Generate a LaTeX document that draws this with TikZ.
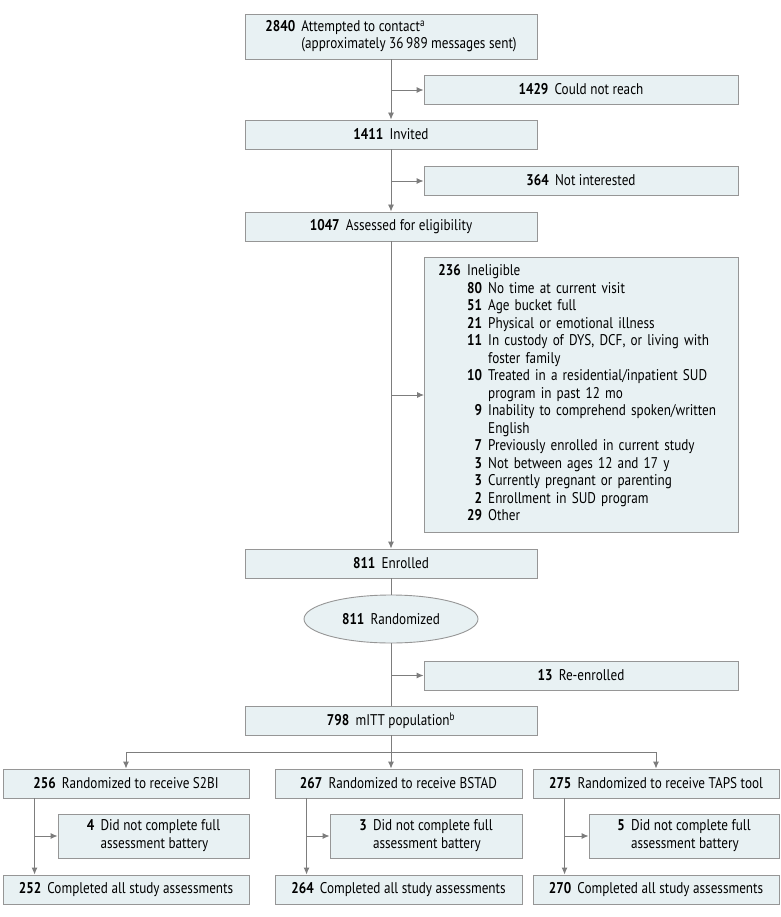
\documentclass[tikz,border=0pt]{standalone}
\usepackage{fontspec}
\setmainfont{PT Sans}[FakeStretch=0.85]
\usepackage{tikz}
\usetikzlibrary{calc, positioning, arrows.meta, shapes.geometric}
\definecolor{flowFill}{RGB}{232,241,243}
\definecolor{flowEdge}{RGB}{150,150,150}
\definecolor{flowLine}{RGB}{125,125,125}
\tikzset{
  flowfig/.style={font=\fontsize{15.5}{17.5}\selectfont},
  flowbox/.style={draw=flowEdge, fill=flowFill, line width=0.9pt, inner sep=0pt,
    minimum height=29pt, align=center},
  mainbox/.style={flowbox, minimum width=292pt},
  sidebox/.style={flowbox, minimum width=314pt},
  armbox/.style={flowbox, minimum width=246pt},
  subbox/.style={flowbox, minimum width=191pt, minimum height=44pt},
  arr/.style={-{Latex[length=7pt, width=6pt]}, draw=flowLine, line width=0.9pt},
  ln/.style={draw=flowLine, line width=0.9pt},
}
\newcommand\cnt[1]{\textbf{#1}\hspace{0.4em}}
\newcommand\twoline[3]{\begin{tabular}{@{}r@{\hspace{0.4em}}l@{}}\textbf{#1} & #2\\ & #3\end{tabular}}

\begin{document}
\begin{tikzpicture}[flowfig, x=1pt, y=-1pt]
  \useasboundingbox (0,0) rectangle (780,917);

  % ----- main column -----
  \node[mainbox, minimum height=45pt] (contact) at (391,36.5)
    {\twoline{2840}{Attempted to contact\textsuperscript{a}}{(approximately 36\,989 messages sent)}};
  \node[mainbox] (invited)  at (391,134.5) {\cnt{1411}Invited};
  \node[mainbox] (assessed) at (391,226.5) {\cnt{1047}Assessed for eligibility};
  \node[mainbox] (enrolled) at (391,563.5) {\cnt{811}Enrolled};
  \node[flowbox, ellipse, minimum width=174pt, minimum height=48pt] (randomized)
    at (391,619) {\cnt{811}Randomized};
  \node[mainbox] (mitt) at (391,720.5) {\cnt{798}mITT population\textsuperscript{b}};

  % ----- exclusions (right) -----
  \node[sidebox] (noreach) at (581,89.5)  {\cnt{1429}Could not reach};
  \node[sidebox] (notint)  at (581,180.5) {\cnt{364}Not interested};
  \node[flowbox, anchor=north west, text width=286pt, inner xsep=14pt,
    minimum height=275pt, align=left] (inelig) at (424,257) {%
    \begin{tabular}{@{}r@{\hspace{0.4em}}r@{\hspace{0.4em}}l@{}}
      \textbf{236} & \multicolumn{2}{@{}l@{}}{Ineligible}\\
      & \textbf{80} & No time at current visit\\
      & \textbf{51} & Age bucket full\\
      & \textbf{21} & Physical or emotional illness\\
      & \textbf{11} & In custody of DYS, DCF, or living with\\
      & & foster family\\
      & \textbf{10} & Treated in a residential/inpatient SUD\\
      & & program in past 12 mo\\
      & \textbf{9} & Inability to comprehend spoken/written\\
      & & English\\
      & \textbf{7} & Previously enrolled in current study\\
      & \textbf{3} & Not between ages 12 and 17 y\\
      & \textbf{3} & Currently pregnant or parenting\\
      & \textbf{2} & Enrollment in SUD program\\
      & \textbf{29} & Other
    \end{tabular}};
  \node[sidebox] (reenrol) at (581,675.5) {\cnt{13}Re-enrolled};

  % ----- three arms -----
  \node[armbox] (s2bi)  at (126,783.5) {\cnt{256}Randomized to receive S2BI};
  \node[armbox, minimum width=247pt] (bstad) at (398.5,783.5) {\cnt{267}Randomized to receive BSTAD};
  \node[armbox] (taps)  at (656,783.5) {\cnt{275}Randomized to receive TAPS tool};

  \node[subbox] (inc1) at (153.5,836) {\twoline{4}{Did not complete full}{assessment battery}};
  \node[subbox, minimum width=192pt] (inc2) at (426,836) {\twoline{3}{Did not complete full}{assessment battery}};
  \node[subbox, minimum width=190pt] (inc3) at (684,836) {\twoline{5}{Did not complete full}{assessment battery}};

  \node[armbox] (done1) at (126,889.5) {\cnt{252}Completed all study assessments};
  \node[armbox, minimum width=247pt] (done2) at (398.5,889.5) {\cnt{264}Completed all study assessments};
  \node[armbox] (done3) at (656,889.5) {\cnt{270}Completed all study assessments};

  % ----- spine -----
  \draw[arr] (contact) -- (invited);
  \draw[arr] (invited) -- (assessed);
  \draw[arr] (assessed) -- (enrolled);
  \draw[ln] (enrolled) -- (randomized);
  \draw[ln] (randomized) -- (mitt);

  % side branches off the spine
  \coordinate (j1) at (391,90);
  \coordinate (j2) at (391,181);
  \coordinate (j3) at (391,395);
  \coordinate (j4) at (391,675.5);
  \draw[arr] (j1) -- (j1 -| noreach.west);
  \draw[arr] (j2) -- (j2 -| notint.west);
  \draw[arr] (j3) -- (j3 -| inelig.west);
  \draw[arr] (j4) -- (j4 -| reenrol.west);

  % ----- split into arms -----
  \coordinate (split) at (391,752);
  \draw[ln] (mitt) -- (split);
  \draw[arr] (split) -| (s2bi);
  \draw[arr] (split) -| (taps);
  \draw[arr] (split) -- (split |- bstad.north);

  % arm drops
  \coordinate (a1) at ([xshift=32pt]s2bi.south west);
  \coordinate (a2) at ([xshift=32pt]bstad.south west);
  \coordinate (a3) at ([xshift=32pt]taps.south west);
  \draw[arr] (a1) -- (a1 |- done1.north);
  \draw[arr] (a2) -- (a2 |- done2.north);
  \draw[arr] (a3) -- (a3 |- done3.north);
  \draw[arr] (a1 |- inc1.west) -- (inc1.west);
  \draw[arr] (a2 |- inc2.west) -- (inc2.west);
  \draw[arr] (a3 |- inc3.west) -- (inc3.west);
\end{tikzpicture}
\end{document}
